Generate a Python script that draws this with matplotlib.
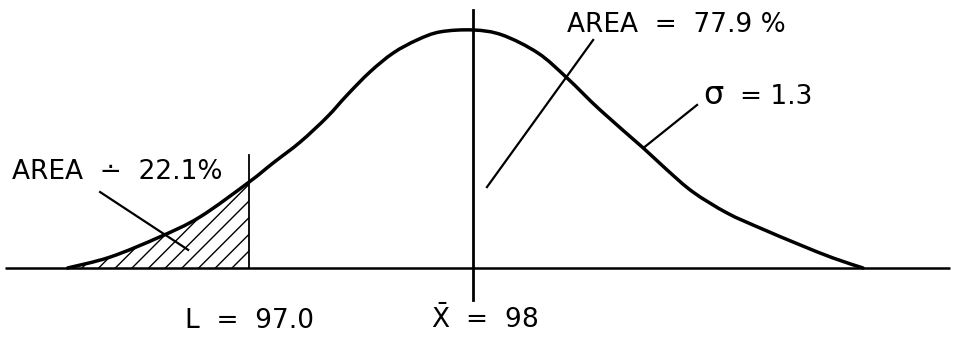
import numpy as np
import matplotlib.pyplot as plt
from matplotlib.path import Path
from matplotlib.patches import PathPatch

# process values written on the sketch
mean_value = 98.0
limit_value = 97.0
sigma_value = 1.3
area_below = 22.1
area_above = 77.9

# curve as drawn (x in measurement units, height relative to the peak)
curve_x = [96.19, 96.38, 96.60, 96.78, 97.00, 97.107, 97.228, 97.348, 97.438, 97.54,
           97.643, 97.75, 97.853, 98.00, 98.13, 98.29, 98.42, 98.567, 98.76, 98.866,
           98.982, 99.134, 99.281, 99.46, 99.607, 99.741]
curve_h = [0.0, 0.046, 0.130, 0.214, 0.361, 0.441, 0.529, 0.634, 0.727, 0.824,
           0.903, 0.958, 0.992, 1.0, 0.979, 0.903, 0.798, 0.664, 0.504, 0.412,
           0.319, 0.231, 0.168, 0.097, 0.042, 0.0]

pts = np.column_stack([curve_x, curve_h])


def smooth_path(p, close_to=None):
    # catmull-rom through the read points, drawn as bezier segments
    ext = np.vstack([p[0], p, p[-1]])
    verts = [p[0]]
    codes = [Path.MOVETO]
    for i in range(1, len(ext) - 2):
        c1 = ext[i] + (ext[i + 1] - ext[i - 1]) / 6
        c2 = ext[i + 1] - (ext[i + 2] - ext[i]) / 6
        verts += [c1, c2, ext[i + 1]]
        codes += [Path.CURVE4] * 3
    if close_to is not None:
        for v in close_to:
            verts.append(v)
            codes.append(Path.LINETO)
        verts.append(p[0])
        codes.append(Path.CLOSEPOLY)
    return Path(verts, codes)


fig = plt.figure(figsize=(9.56, 3.37), dpi=100)
ax = fig.add_axes([0, 0, 1, 1])
ax.set_xlim(95.888, 100.156)
ax.set_ylim(-0.290, 1.126)
ax.axis('off')

# base line and curve
ax.plot([95.91, 100.13], [0, 0], color='black', lw=1.8, solid_capstyle='butt')
ax.add_patch(PathPatch(smooth_path(pts), facecolor='none', edgecolor='black',
                       lw=2.5, joinstyle='round', capstyle='round'))

# shaded tail below L
tail = pts[np.array(curve_x) <= limit_value]
ax.add_patch(PathPatch(smooth_path(tail, close_to=[(limit_value, 0)]),
                       facecolor='none', edgecolor='black', hatch='//', lw=0))

# mean and limit lines
ax.plot([mean_value, mean_value], [-0.134, 1.084], color='black', lw=2.0)
ax.plot([limit_value, limit_value], [0, 0.475], color='black', lw=1.3)

# leader lines
ax.plot([96.335, 96.728], [0.319, 0.076], color='black', lw=1.6)
ax.plot([98.536, 98.062], [0.958, 0.340], color='black', lw=1.6)
ax.plot([99.00, 98.76], [0.685, 0.504], color='black', lw=1.6)

font = dict(fontsize=19, color='black', family='DejaVu Sans')
ax.text(95.942, 0.374, f"AREA  \u2238  {area_below}%", ha='left', va='baseline', **font)
ax.text(98.42, 0.992, f"AREA  =  {area_above} %", ha='left', va='baseline', **font)
ax.text(99.027, 0.689, "\u03c3", ha='left', va='baseline', fontsize=23,
        color='black', family='DejaVu Sans')
ax.text(99.19, 0.689, f"= {sigma_value}", ha='left', va='baseline', **font)
ax.text(limit_value, -0.252, f"L  =  {limit_value:.1f}", ha='center', va='baseline', **font)
ax.text(mean_value + 0.05, -0.252, r"$\bar{\mathrm{X}}$  =  " + f"{mean_value:g}",
        ha='center', va='baseline', **font)

fig.savefig('out.png', dpi=100)
